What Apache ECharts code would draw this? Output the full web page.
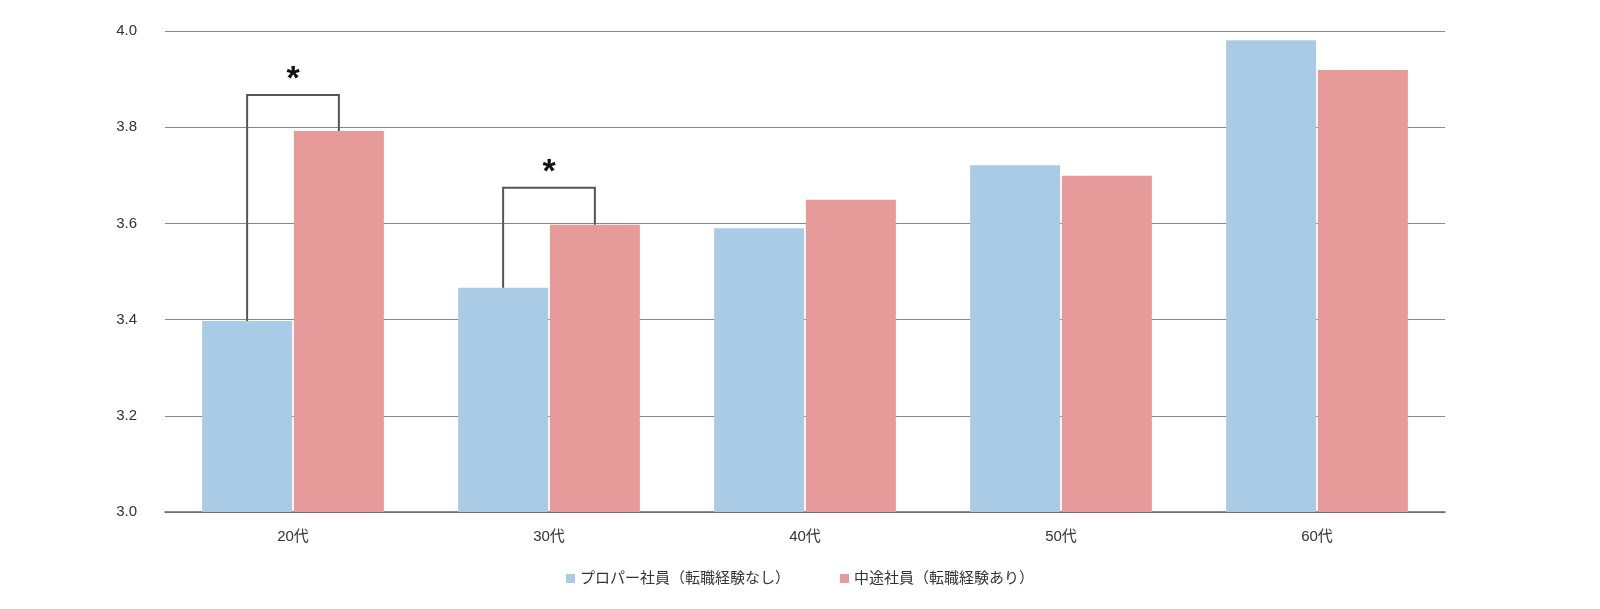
<!DOCTYPE html>
<html><head><meta charset="utf-8">
<script src="https://cdn.jsdelivr.net/npm/echarts@6/dist/echarts.min.js"></script>
<style>html,body{margin:0;background:#fff}#main{width:1600px;height:609px}</style>
</head><body><div id="main"></div>
<script>
// 年代別の比較
var categories = ['20代', '30代', '40代', '50代', '60代'];
var properValues = [3.397, 3.466, 3.590, 3.721, 3.981];
var midCareerValues = [3.792, 3.597, 3.649, 3.699, 3.919];
// 有意差の括弧: [カテゴリ, 左端の値, 右端の値, 上端の値]
var brackets = [[0, 3.397, 3.792, 3.867], [1, 3.466, 3.597, 3.674]];

var catGap = 0.29, barGap = 0.02;
var myChart = echarts.init(document.getElementById('main'));
var option = {
    animation: false,
    textStyle: { fontFamily: 'Liberation Sans, Noto Sans CJK JP' },
    grid: { left: 165, right: 155, top: 31, bottom: 97 },
    legend: {
        bottom: 18, itemWidth: 9, itemHeight: 9, itemGap: 50, icon: 'rect',
        textStyle: { fontSize: 15, color: '#333' },
        data: ['プロパー社員（転職経験なし）', '中途社員（転職経験あり）']
    },
    xAxis: {
        type: 'category', data: categories,
        axisLine: { lineStyle: { color: '#666', width: 1.5 } },
        axisTick: { show: false },
        axisLabel: { fontSize: 15, color: '#333', margin: 17 }
    },
    yAxis: {
        type: 'value', min: 3, max: 4, interval: 0.2,
        axisLine: { show: false }, axisTick: { show: false },
        axisLabel: { fontSize: 15, color: '#333', margin: 28, formatter: function (v) { return v.toFixed(1); } },
        splitLine: { lineStyle: { color: '#888', width: 1.2 } }
    },
    series: [
        { name: 'プロパー社員（転職経験なし）', type: 'bar', data: properValues,
          itemStyle: { color: '#a9cbe6' }, barGap: '2%', barCategoryGap: '29%' },
        { name: '中途社員（転職経験あり）', type: 'bar', data: midCareerValues,
          itemStyle: { color: '#e69a9a' } },
        { type: 'custom', data: brackets, z: 10, silent: true,
          renderItem: function (params, api) {
              var band = api.size([1, 0])[0];
              var w = band * (1 - catGap) / (2 + barGap);
              var off = w * (1 + barGap) / 2;
              var c = api.coord([api.value(0), api.value(3)]);
              var yl = api.coord([api.value(0), api.value(1)])[1];
              var yr = api.coord([api.value(0), api.value(2)])[1];
              var xl = c[0] - off, xr = c[0] + off, yt = c[1];
              return { type: 'group', children: [
                  { type: 'polyline', shape: { points: [[xl, yl], [xl, yt], [xr, yt], [xr, yr]] },
                    style: { stroke: '#555', lineWidth: 2, fill: null } },
                  { type: 'text', style: { text: '*', x: c[0], y: yt + 2, align: 'center', verticalAlign: 'bottom',
                    fontSize: 34, fontWeight: 'bold', fill: '#111', fontFamily: 'Liberation Sans' } }
              ] };
          } }
    ]
};
myChart.setOption(option);
</script></body></html>
